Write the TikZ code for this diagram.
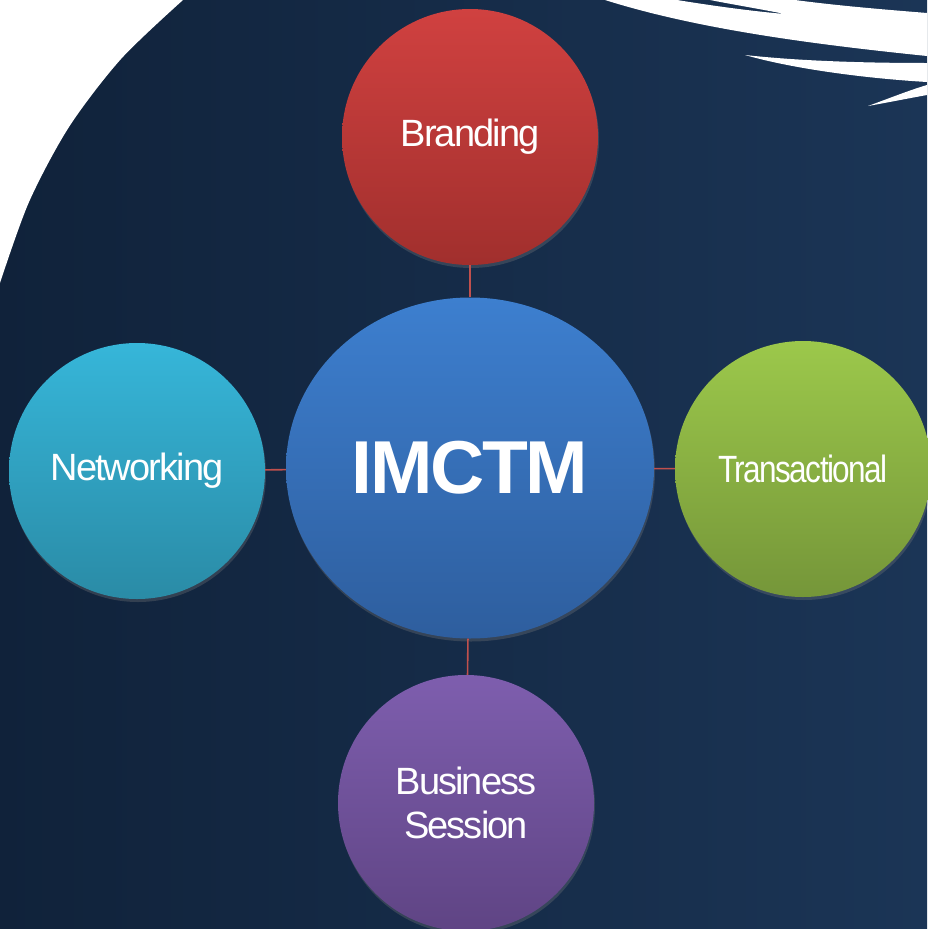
\documentclass[tikz,border=0pt]{standalone}
\usepackage{fontspec}
\usepackage{graphicx}
\setmainfont{Liberation Sans}
\usetikzlibrary{shapes.geometric,shadows}
\definecolor{navyleft}{HTML}{10223A}
\definecolor{navyright}{HTML}{1B3556}
\definecolor{linkred}{HTML}{C0504D}
\tikzset{
	hub/.style={circle,minimum size=256pt,inner sep=0pt,text=white,align=center,
		font=\fontsize{38}{44}\selectfont\addfontfeatures{LetterSpace=-5},
		drop shadow={shadow xshift=1pt,shadow yshift=-3pt,opacity=0.3}},
	link/.style={draw=linkred,line width=1.6pt}
}
\begin{document}
\begin{tikzpicture}[x=1pt,y=-1pt]
	\useasboundingbox (0,0) rectangle (927,929);
	\fill[left color=navyleft,right color=navyright] (0,0) rectangle (927,929);
	\fill[white] plot[smooth] coordinates {(183,0) (121,59) (69,127) (29,202) (0,283)} -- (0,0) -- cycle;
	%
	\fill[white] (605,0) -- (677,0) .. controls (720,7) and (760,12) .. (785,14)
		.. controls (760,9) and (730,4) .. (710,0) -- (795,0)
		.. controls (840,6) and (890,10) .. (927,13) -- (927,56)
		.. controls (820,45) and (700,30) .. (605,0) -- cycle;
	\fill[white] (745,55) .. controls (790,60) and (850,63) .. (927,63) -- (927,82)
		.. controls (860,78) and (790,68) .. (745,55) -- cycle;
	\fill[white] (868,106) .. controls (890,98) and (910,90) .. (927,85) -- (927,95)
		.. controls (905,99) and (885,103) .. (868,106) -- cycle;
	%
	\node[hub,ellipse,minimum width=368pt,minimum height=341pt,
		top color={rgb,255:red,61;green,127;blue,207},bottom color={rgb,255:red,46;green,94;blue,158},
		font=\fontsize{75}{80}\selectfont\bfseries\addfontfeatures{LetterSpace=-3}]
		(core) at (470,468) {IMCTM};
	\node[hub,top color={rgb,255:red,208;green,65;blue,64},bottom color={rgb,255:red,161;green,47;blue,45}]
		(brand) at (470,137) {Branding};
	\node[hub,top color={rgb,255:red,54;green,182;blue,217},bottom color={rgb,255:red,42;green,139;blue,166}]
		(net) at (137,471) {Networking};
	\node[hub,top color={rgb,255:red,156;green,200;blue,75},bottom color={rgb,255:red,117;green,150;blue,57}]
		(trans) at (803,469) {\scalebox{0.83}[1]{Transactional}};
	\node[hub,top color={rgb,255:red,126;green,94;blue,174},bottom color={rgb,255:red,95;green,68;blue,132}]
		(biz) at (466,803) {Business\\Session};
	%
	\path[link] (core) edge (brand) edge (net) edge (trans) edge (biz);
\end{tikzpicture}
\end{document}
